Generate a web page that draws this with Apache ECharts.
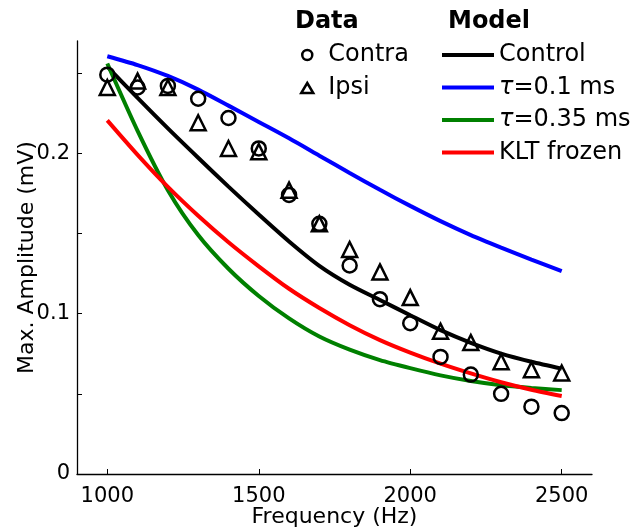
<!DOCTYPE html>
<html>
<head>
<meta charset="utf-8">
<script src="https://cdn.jsdelivr.net/npm/echarts@6/dist/echarts.min.js"></script>
<style>
  html, body { margin: 0; padding: 0; background: #fff; }
  #chart { width: 641px; height: 530px; }
</style>
</head>
<body>
<div id="chart"></div>
<script>
// Stimulus frequencies (Hz)
const frequency = [1000, 1100, 1200, 1300, 1400, 1500, 1600, 1700, 1800, 1900, 2000, 2100, 2200, 2300, 2400, 2500];

// Recorded maximum amplitudes (mV)
const contra = [0.249, 0.241, 0.242, 0.234, 0.222, 0.203, 0.174, 0.156, 0.130, 0.109, 0.094, 0.073, 0.062, 0.050, 0.042, 0.038];
const ipsi   = [0.241, 0.245, 0.241, 0.219, 0.203, 0.201, 0.177, 0.156, 0.140, 0.126, 0.110, 0.089, 0.082, 0.070, 0.065, 0.063];

// Model predictions (mV)
const control   = [0.254, 0.2345, 0.2155, 0.1972, 0.1792, 0.1618, 0.145, 0.1298, 0.118, 0.1085, 0.099, 0.0897, 0.0818, 0.0751, 0.070, 0.0657];
const tau01     = [0.2605, 0.255, 0.2482, 0.2397, 0.2297, 0.2195, 0.2093, 0.1985, 0.1877, 0.1772, 0.1672, 0.1577, 0.149, 0.1412, 0.1337, 0.1265];
const tau035    = [0.256, 0.214, 0.177, 0.149, 0.128, 0.111, 0.097, 0.0857, 0.0775, 0.071, 0.066, 0.0615, 0.058, 0.0554, 0.0537, 0.0523];
const kltFrozen = [0.2205, 0.199, 0.179, 0.161, 0.1445, 0.1295, 0.1155, 0.1035, 0.0928, 0.0835, 0.0757, 0.0688, 0.0627, 0.0572, 0.0525, 0.0486];

// Axis ticks
const xTicks = [1000, 1500, 2000, 2500];
const yTicks = [0, 0.05, 0.1, 0.15, 0.2, 0.25];
const yLabels = [0, 0.1, 0.2];

const FONT = 'DejaVu Sans';
const pairs = (ys) => frequency.map((f, i) => [f, ys[i]]);

const chart = echarts.init(document.getElementById('chart'), null, { renderer: 'canvas' });

function modelLine(name, values, color) {
  return {
    name, type: 'line', data: pairs(values),
    showSymbol: false, symbol: 'none',
    smooth: 0.25,
    lineStyle: { color, width: 4 },
    itemStyle: { color },
    z: 2, animation: false
  };
}

function dataScatter(name, values, symbol, size) {
  return {
    name, type: 'scatter', data: pairs(values),
    symbol, symbolSize: size,
    itemStyle: { color: 'rgba(255,255,255,0)', borderColor: '#000', borderWidth: 2.5, opacity: 1 },
    z: 3, animation: false
  };
}

const tauRich = { t: { fontFamily: FONT, fontStyle: 'italic', fontSize: 24, color: '#000' } };
const titleStyle = { fontFamily: FONT, fontWeight: 'bold', fontSize: 24, color: '#000' };
const hollow = { color: 'rgba(255,255,255,0)', borderColor: '#000', borderWidth: 2.5, opacity: 1 };

chart.setOption({
  backgroundColor: '#fff',
  animation: false,
  grid: { left: 77, right: 49, top: 41, bottom: 56, containLabel: false, outerBoundsMode: 'none' },
  title: [
    { text: 'Data', left: 295, top: 10, padding: 0, textStyle: titleStyle },
    { text: 'Model', left: 448, top: 10, padding: 0, textStyle: titleStyle }
  ],
  legend: [
    {
      data: [
        { name: 'Contra', icon: 'circle', itemStyle: hollow },
        { name: 'Ipsi', icon: 'triangle', itemStyle: hollow }
      ],
      orient: 'vertical', left: 295, top: 38,
      itemWidth: 12, itemHeight: 10, itemGap: 9,
      textStyle: { fontFamily: FONT, fontSize: 24, color: '#000', lineHeight: 24, padding: [0, 0, 0, 10] },
      selectedMode: false
    },
    {
      data: ['Control', 'tau01', 'tau035', 'KLT frozen'],
      orient: 'vertical', left: 437, top: 38,
      itemWidth: 52, itemHeight: 4, itemGap: 8.5, icon: 'rect',
      formatter: (n) => n === 'tau01' ? '{t|τ}=0.1 ms' : n === 'tau035' ? '{t|τ}=0.35 ms' : n,
      textStyle: { fontFamily: FONT, fontSize: 24, color: '#000', lineHeight: 24, rich: tauRich },
      selectedMode: false
    }
  ],
  xAxis: {
    type: 'value', min: 900, max: 2600,
    name: 'Frequency (Hz)', nameLocation: 'middle', nameGap: 32, nameMoveOverlap: false,
    nameTextStyle: { fontFamily: FONT, fontSize: 22, color: '#000' },
    axisLine: { show: true, lineStyle: { color: '#000', width: 1.3 } },
    axisTick: { show: true, inside: true, length: 5, customValues: xTicks, lineStyle: { color: '#000', width: 1 } },
    axisLabel: { customValues: xTicks, formatter: (v) => String(v), fontFamily: FONT, fontSize: 21, color: '#000', margin: 12 },
    splitLine: { show: false }
  },
  yAxis: {
    type: 'value', min: 0, max: 0.27,
    name: 'Max. Amplitude (mV)', nameLocation: 'middle', nameGap: 39, nameMoveOverlap: false,
    nameTextStyle: { fontFamily: FONT, fontSize: 22, color: '#000' },
    axisLine: { show: true, lineStyle: { color: '#000', width: 1.3 } },
    axisTick: { show: true, inside: true, length: 5, customValues: yTicks, lineStyle: { color: '#000', width: 1 } },
    axisLabel: { customValues: yLabels, formatter: (v) => String(v), fontFamily: FONT, fontSize: 21, color: '#000', margin: 7 },
    splitLine: { show: false }
  },
  series: [
    modelLine('Control', control, '#000000'),
    modelLine('tau01', tau01, '#0000ff'),
    modelLine('tau035', tau035, '#008000'),
    modelLine('KLT frozen', kltFrozen, '#ff0000'),
    dataScatter('Contra', contra, 'circle', 14),
    dataScatter('Ipsi', ipsi, 'triangle', 15)
  ]
});
</script>
</body>
</html>
